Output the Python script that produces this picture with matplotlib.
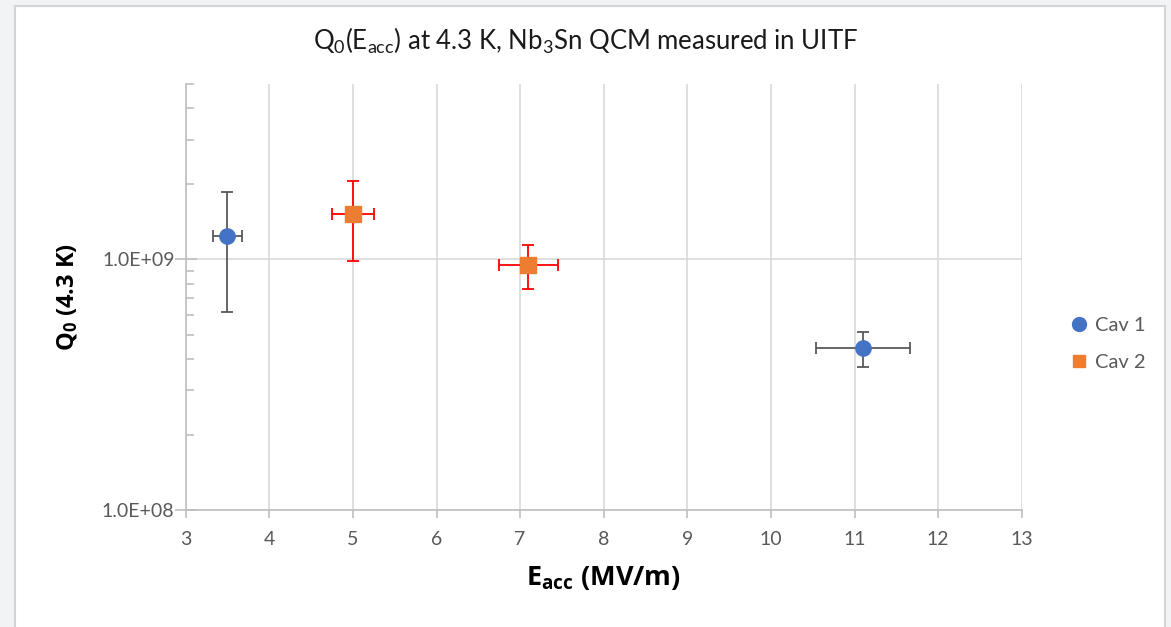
import math

import matplotlib
matplotlib.use("Agg")
import matplotlib.pyplot as plt
from matplotlib.lines import Line2D
from matplotlib.patches import Rectangle
from matplotlib.ticker import LogLocator, FuncFormatter, NullFormatter, MultipleLocator

plt.rcParams["font.family"] = ["Lato", "DejaVu Sans"]
plt.rcParams["mathtext.default"] = "regular"

# Data
cav1_e = [3.5, 11.1]
cav1_q = [1.235e9, 0.442e9]
cav1_xerr = [0.17, 0.56]
cav1_yerr = [0.62e9, 0.07e9]

cav2_e = [5.0, 7.1]
cav2_q = [1.52e9, 0.953e9]
cav2_xerr = [0.25, 0.355]
cav2_yerr = [0.54e9, 0.19e9]

W, H = 1171, 627
fig = plt.figure(figsize=(W / 100, H / 100), dpi=100)
fig.patch.set_facecolor("#f2f3f5")

# white chart area with thin border, like the screenshot
fig.patches.append(Rectangle((15 / W, -0.01), (1165 - 15) / W, (H - 6) / H + 0.01,
                             transform=fig.transFigure, facecolor="white",
                             edgecolor="#d4d4d4", linewidth=1.5, zorder=-10))

ax = fig.add_axes([185.7 / W, 1 - 510 / H, 836 / W, (510 - 84) / H])
ax.set_facecolor("white")

ax.errorbar(cav1_e, cav1_q, xerr=cav1_xerr, yerr=cav1_yerr, fmt="o",
            color="#4472C4", ecolor="#595959", elinewidth=1.3, capsize=4,
            capthick=1.3, markersize=11, zorder=3)
ax.errorbar(cav2_e, cav2_q, xerr=cav2_xerr, yerr=cav2_yerr, fmt="s",
            color="#ED7D31", ecolor="#FF0000", elinewidth=1.3, capsize=4,
            capthick=1.3, markersize=11, zorder=3)

ax.set_yscale("log")
ax.set_xlim(3, 13)
ax.set_ylim(1e8, 5e9)
ax.xaxis.set_major_locator(MultipleLocator(1))
ax.yaxis.set_major_locator(LogLocator(base=10, numticks=10))
ax.yaxis.set_minor_locator(LogLocator(base=10, subs=range(2, 10), numticks=10))
ax.yaxis.set_major_formatter(FuncFormatter(lambda v, p: "1.0E+%02d" % round(math.log10(v))))
ax.yaxis.set_minor_formatter(NullFormatter())

ax.grid(True, axis="x", color="#d9d9d9", linewidth=1.2, zorder=0)
ax.grid(True, axis="y", which="major", color="#d9d9d9", linewidth=1.2, zorder=0)
ax.set_axisbelow(True)

for s in ["top", "right"]:
    ax.spines[s].set_visible(False)
for s in ["left", "bottom"]:
    ax.spines[s].set_color("#bfbfbf")
    ax.spines[s].set_linewidth(1.2)

ax.tick_params(axis="both", which="major", colors="#bfbfbf", labelcolor="#595959",
               labelsize=14, length=6, width=1.2, direction="out")
ax.tick_params(axis="y", which="major", direction="inout", length=16, pad=0)
ax.tick_params(axis="y", which="minor", colors="#bfbfbf", direction="in", length=6, width=1.2)
ax.tick_params(axis="x", pad=9)

bold_family = ["Open Sans", "DejaVu Sans"]
ax.set_xlabel("E$_{acc}$ (MV/m)", fontsize=19.5, fontweight="bold",
              family=bold_family, labelpad=12)
ax.set_ylabel("Q$_0$ (4.3 K)", fontsize=17, fontweight="bold",
              family=bold_family, labelpad=16)

fig.text(0.5, 1 - 41 / H, "Q$_0$(E$_{acc}$) at 4.3 K, Nb$_3$Sn QCM measured in UITF",
         ha="center", va="center", fontsize=18.5, color="#1a1a1a")

handles = [
    Line2D([], [], linestyle="none", marker="o", color="#4472C4", markersize=10),
    Line2D([], [], linestyle="none", marker="s", color="#ED7D31", markersize=9),
]
ax.legend(handles, ["Cav 1", "Cav 2"], loc="center left",
          bbox_to_anchor=(1046 / W, 1 - 344 / H),
          bbox_transform=fig.transFigure, frameon=False, fontsize=14.5,
          handletextpad=0.05, labelspacing=0.95, handlelength=1.5,
          labelcolor="#595959")

fig.savefig("out.png", dpi=100, facecolor=fig.get_facecolor())
